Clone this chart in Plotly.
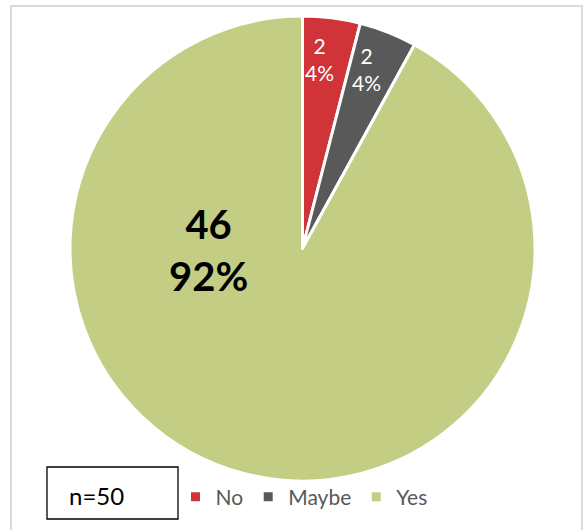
import math
import plotly.graph_objects as go

categories = ["No", "Maybe", "Yes"]
values = [2, 2, 46]
colors = ["#D13438", "#595959", "#C3CD83"]
sample_label = "n=50"

W, H = 584, 530
total = sum(values)
pcts = [round(v * 100 / total) for v in values]

# pie geometry (pixels)
CX, CY, R = 302.5, 248.5, 232.5

fig = go.Figure(go.Pie(
    labels=categories,
    values=values,
    textinfo="none",
    marker=dict(colors=colors, line=dict(color="white", width=3)),
    sort=False,
    direction="clockwise",
    rotation=0,
    domain=dict(x=[(CX - R) / W, (CX + R) / W], y=[1 - (CY + R) / H, 1 - (CY - R) / H]),
))

# small-slice labels, placed at each slice's mid angle
cum = 0
for i, (v, p) in enumerate(zip(values, pcts)):
    mid = (cum + v / 2) / total * 360
    cum += v
    if i == 2:
        continue
    ang = math.radians(mid - 2)
    r = 0.82 * R
    px = CX + r * math.sin(ang)
    py = CY - r * math.cos(ang)
    fig.add_annotation(
        x=px / W, y=1 - py / H, xref="paper", yref="paper",
        xanchor="center", yanchor="middle",
        text=f"{v}<br>{p}%", showarrow=False,
        font=dict(family="Lato", size=21, color="white"),
        align="center",
    )

fig.add_annotation(
    x=208 / W, y=1 - 250 / H, xref="paper", yref="paper",
    xanchor="center", yanchor="middle",
    text=f"<b>{values[2]}<br>{pcts[2]}%</b>", showarrow=False,
    font=dict(family="Lato", size=40, color="black"),
    align="center",
)

# outer frame
fig.add_shape(type="rect", xref="paper", yref="paper",
              x0=11 / W, x1=582 / W, y0=-0.05, y1=1 - 6 / H,
              line=dict(color="#D9D9D9", width=2), layer="below")
# n box
fig.add_shape(type="rect", xref="paper", yref="paper",
              x0=47 / W, x1=178 / W, y0=1 - 519 / H, y1=1 - 467 / H,
              line=dict(color="black", width=1.3), fillcolor="white")
fig.add_annotation(
    x=96 / W, y=1 - 495 / H, xref="paper", yref="paper",
    xanchor="center", yanchor="middle",
    text=sample_label, showarrow=False,
    font=dict(family="Lato", size=24, color="black"),
)

fig.update_layout(
    width=W, height=H,
    margin=dict(l=0, r=0, t=0, b=0),
    paper_bgcolor="white",
    showlegend=True,
    legend=dict(orientation="h", x=304 / W, xanchor="center",
                y=1 - 497 / H, yanchor="middle",
                font=dict(family="Lato", size=21, color="#595959"),
                itemwidth=30, tracegroupgap=0, bgcolor="rgba(0,0,0,0)"),
)

fig.write_html("out.html", config={"displayModeBar": False},
               post_script="document.body.style.margin='0';")
